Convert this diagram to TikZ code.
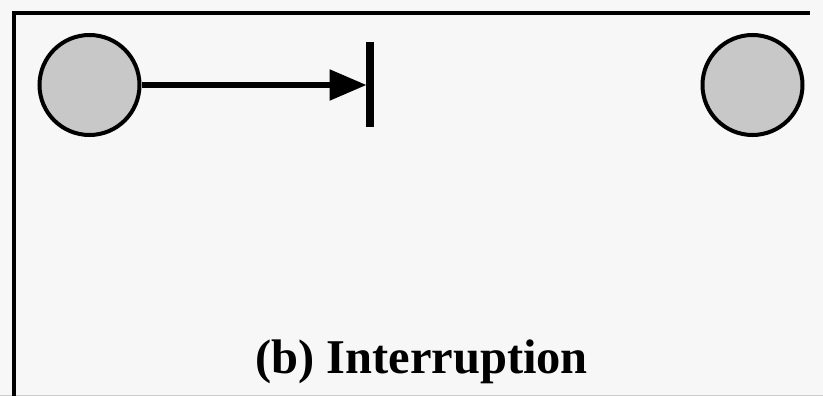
\documentclass[tikz,border=0pt]{standalone}
\usepackage{fontspec}
\setmainfont{Liberation Serif}
\usetikzlibrary{arrows.meta}
\definecolor{bgc}{HTML}{F7F7F7}
\definecolor{nodegray}{HTML}{C8C8C8}
\begin{document}
\begin{tikzpicture}[x=1pt,y=-1pt,
  place/.style={circle,draw=black,fill=nodegray,line width=4pt,minimum size=100pt,inner sep=0pt},
  frameline/.style={line width=4pt},
  conn/.style={line width=5.5pt,-{Triangle[length=37pt,width=30pt]}},
  barline/.style={line width=8pt}]
\useasboundingbox (0,0) rectangle (823,396);
\fill[bgc] (-6,-6) rectangle (830,402);
\draw[gray!40,line width=1pt] (-6,395.5) -- (830,395.5);
\draw[frameline] (14,402) -- (14,13) -- (810,13);
\node[place] (a) at (89.5,85) {};
\node[place] (b) at (752.5,85) {};
\coordinate (bartop) at (370,42);
\coordinate (barbot) at (370,127);
\coordinate (bar) at (366.5,85);
\draw[barline] (bartop) -- (barbot);
\draw[conn] (a.east) -- (bar);
\node[anchor=base,font=\fontsize{48.5}{50}\selectfont\bfseries,inner sep=0pt] (lbl) at (421.5,373) {(b) Interruption};
\end{tikzpicture}
\end{document}
